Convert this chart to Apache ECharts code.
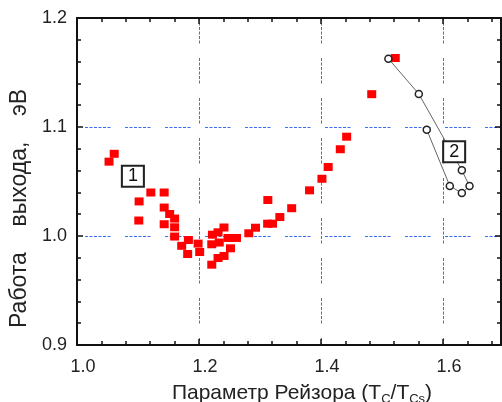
<!DOCTYPE html>
<html>
<head>
<meta charset="utf-8">
<script src="https://cdn.jsdelivr.net/npm/echarts@6/dist/echarts.min.js"></script>
<style>
  html, body { margin: 0; padding: 0; background: #fff; }
  #chart { width: 502px; height: 402px; }
</style>
</head>
<body>
<div id="chart"></div>
<script>
// точки серии 1 (красные квадраты)
var squaresX = [1.0525, 1.061, 1.1018, 1.121, 1.1013, 1.1429, 1.1429, 1.1519, 1.1429,
  1.16, 1.16, 1.16, 1.1716, 1.1826, 1.1814, 1.1985, 1.2011,
  1.222, 1.2312, 1.2409, 1.2209, 1.2332, 1.2476, 1.2614, 1.2516, 1.2312, 1.241, 1.2209,
  1.2816, 1.2926, 1.3125, 1.3205, 1.3325, 1.3519, 1.3128, 1.3812, 1.4015, 1.4117,
  1.4316, 1.442, 1.4831, 1.5217];
var squaresY = [1.0682, 1.0754, 1.0317, 1.0399, 1.0142, 1.0399, 1.0261, 1.0202, 1.0108,
  1.016, 1.008, 0.9995, 0.991, 0.9963, 0.9835, 0.993, 0.9853,
  1.0012, 1.0034, 1.0078, 0.9924, 0.994, 0.9982, 0.9982, 0.9887, 0.9798, 0.9817, 0.9737,
  1.0025, 1.0076, 1.0113, 1.0113, 1.0174, 1.0255, 1.033, 1.0419, 1.0525, 1.0633,
  1.0796, 1.0911, 1.1301, 1.1633];

// серия 2 (кружки, соединены линией)
var circlesX = [1.5104, 1.5603, 1.6308, 1.6434, 1.6308, 1.6111, 1.5733];
var circlesY = [1.1627, 1.1303, 1.0603, 1.0459, 1.0394, 1.0459, 1.0975];

// подписи-номера
var boxLabels = ["1", "2"];
var boxX = [1.0916, 1.6182];
var boxY = [1.0548, 1.0773];

var xTicks = [1.0, 1.2, 1.4, 1.6];
var yTicks = [0.9, 1.0, 1.1, 1.2];
var xMax = 1.695;

var font = "Arial, 'Liberation Sans', sans-serif";
var gridDash = [3, 1.5, 3, 1.5, 3, 1.5, 3, 1.5, 3, 1.5, 3, 14.5];
var gridColor = "#3d6cf0";

function zip(xs, ys) {
  return xs.map(function (x, i) { return [x, ys[i]]; });
}

var frameAxis = {
  axisLine: { show: true, onZero: false, lineStyle: { color: "#111", width: 2 } },
  axisTick: { show: true, inside: true, length: 6, lineStyle: { color: "#111", width: 1.5 } },
  minorTick: { show: true, splitNumber: 5, length: 4, lineStyle: { color: "#111", width: 1.5 } },
};

var chart = echarts.init(document.getElementById("chart"));
chart.setOption({
  animation: false,
  backgroundColor: "#fff",
  grid: { left: 77, top: 18, right: 1, bottom: 57, outerBoundsMode: "none", containLabel: false },
  xAxis: [
    Object.assign({}, frameAxis, {
      type: "value",
      min: xTicks[0],
      max: xMax,
      interval: 0.2,
      position: "bottom",
      axisLabel: {
        color: "#222", fontSize: 18, fontFamily: font, margin: 13,
        padding: [0, 0, 0, 12], showMaxLabel: false,
        formatter: function (v) { return v.toFixed(1); },
      },
      splitLine: { show: true, lineStyle: { color: gridColor, width: 1, type: gridDash, opacity: 1 } },
      name: "Параметр Рейзора (T{s|C}/T{s|Cs})",
      nameLocation: "middle",
      nameGap: 36,
      nameTextStyle: {
        color: "#222", fontSize: 21, fontFamily: font, padding: [0, 0, 0, 26],
        rich: { s: { fontSize: 13, fontFamily: font, color: "#222", padding: [12, 0, 0, 0] } },
      },
    }),
    Object.assign({}, frameAxis, {
      type: "value",
      min: xTicks[0],
      max: xMax,
      interval: 0.2,
      position: "top",
      axisLabel: { show: false },
      splitLine: { show: false },
    }),
  ],
  yAxis: [
    Object.assign({}, frameAxis, {
      type: "value",
      min: yTicks[0],
      max: yTicks[yTicks.length - 1],
      interval: 0.1,
      position: "left",
      axisLabel: {
        color: "#222", fontSize: 18, fontFamily: font, margin: 10,
        formatter: function (v) { return v.toFixed(1); },
      },
      splitLine: { show: true, lineStyle: { color: gridColor, width: 1, type: gridDash, dashOffset: 32 } },
      name: "Работа    выхода,    эВ",
      nameLocation: "middle",
      nameGap: 46,
      nameTextStyle: { color: "#222", fontSize: 23, fontFamily: font, padding: [0, 54, 0, 0] },
    }),
    Object.assign({}, frameAxis, {
      type: "value",
      min: yTicks[0],
      max: yTicks[yTicks.length - 1],
      interval: 0.1,
      position: "right",
      axisLabel: { show: false },
      splitLine: { show: false },
    }),
  ],
  series: [
    {
      type: "scatter",
      data: zip(squaresX, squaresY),
      symbol: "rect",
      symbolSize: [9, 8],
      itemStyle: { color: "#ff0000", opacity: 1 },
      z: 3,
    },
    {
      type: "line",
      data: zip(circlesX, circlesY),
      symbol: "circle",
      symbolSize: 7,
      showAllSymbol: true,
      lineStyle: { color: "#666", width: 1 },
      itemStyle: { color: "#fff", borderColor: "#222", borderWidth: 1.5 },
      z: 4,
    },
    {
      type: "scatter",
      data: boxX.map(function (x, i) { return { value: [x, boxY[i]], name: boxLabels[i] }; }),
      symbol: "rect",
      symbolSize: [22, 21],
      itemStyle: { color: "#fff", borderColor: "#222", borderWidth: 2, opacity: 1 },
      label: {
        show: true, position: "inside", formatter: "{b}",
        color: "#111", fontSize: 18, fontFamily: font,
      },
      z: 5,
    },
  ],
});
</script>
</body>
</html>
